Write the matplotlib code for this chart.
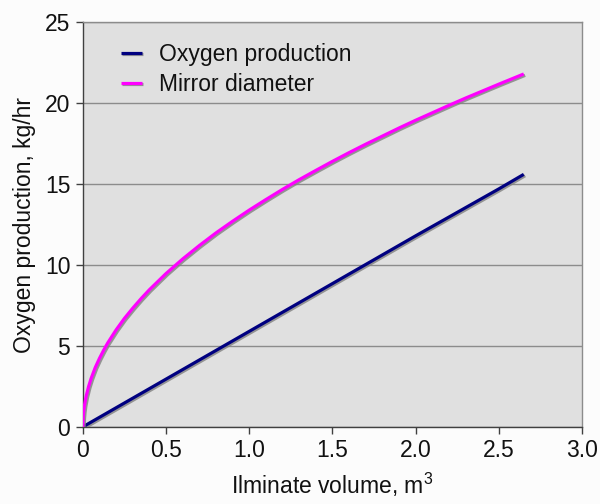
import matplotlib
matplotlib.use("Agg")
import matplotlib.pyplot as plt
import matplotlib.patheffects as pe

plt.rcParams['font.family'] = ['Liberation Sans', 'DejaVu Sans']

# Data
ilmenite_volume = [0, 0.002, 0.005, 0.01, 0.02, 0.035, 0.05, 0.075, 0.1, 0.125, 0.15,
                   0.2, 0.25, 0.3, 0.35, 0.4, 0.5, 0.6, 0.7, 0.8, 0.9, 1.0, 1.1,
                   1.2, 1.3, 1.4, 1.5, 1.6, 1.7, 1.8, 1.9, 2.0, 2.1, 2.2, 2.3,
                   2.4, 2.5, 2.65]
mirror_diameter = [0, 0.60, 0.95, 1.34, 1.89, 2.50, 2.99, 3.67, 4.23, 4.73, 5.19,
                   5.99, 6.70, 7.33, 7.92, 8.47, 9.47, 10.37, 11.20, 11.98, 12.70, 13.39, 14.04,
                   14.67, 15.27, 15.84, 16.40, 16.94, 17.46, 17.96, 18.46, 18.94, 19.40, 19.86, 20.31,
                   20.74, 21.17, 21.80]
oxygen_volume = [0, 0.5, 1.0, 1.5, 2.0, 2.5, 2.65]
oxygen_production = [0, 2.95, 5.9, 8.85, 11.8, 14.7, 15.6]

x_ticks = [0, 0.5, 1.0, 1.5, 2.0, 2.5, 3.0]
x_tick_labels = ["0", "0.5", "1.0", "1.5", "2.0", "2.5", "3.0"]
y_ticks = [0, 5, 10, 15, 20, 25]

fig = plt.figure(figsize=(6.0, 5.04), dpi=100)
fig.patch.set_facecolor('#fcfcfc')
ax = fig.add_axes([0.138, 0.153, 0.832, 0.803])
ax.set_facecolor('#e0e0e0')

shadow = [pe.SimpleLineShadow(offset=(1.0, -1.0), shadow_color='#808080', alpha=0.8), pe.Normal()]
ax.plot(oxygen_volume, oxygen_production, color='#000080', lw=2.3,
        label='Oxygen production', path_effects=shadow, solid_capstyle='butt',
        solid_joinstyle='round', zorder=3)
ax.plot(ilmenite_volume, mirror_diameter, color='#ff00ff', lw=2.3,
        label='Mirror diameter', path_effects=shadow, solid_capstyle='butt',
        solid_joinstyle='round', zorder=3)

ax.set_xlim(0, 3.0)
ax.set_ylim(0, 25)
ax.set_xticks(x_ticks)
ax.set_xticklabels(x_tick_labels)
ax.set_yticks(y_ticks)
ax.yaxis.grid(True, color='#8c8c8c', lw=1.0)
ax.set_axisbelow(True)

for s in ['top', 'right']:
    ax.spines[s].set_color('#8c8c8c')
    ax.spines[s].set_linewidth(1.0)
for s in ['left', 'bottom']:
    ax.spines[s].set_color('#404040')
    ax.spines[s].set_linewidth(1.0)

ax.tick_params(axis='both', direction='out', length=5, width=1, color='#404040',
               labelsize=16.5, pad=4, labelcolor='#111111')

ax.set_xlabel('Ilminate volume, m$^{\\mathregular{3}}$', fontsize=16.5, labelpad=6, color='#111111')
ax.set_ylabel('Oxygen production, kg/hr', fontsize=16.5, labelpad=6, color='#111111')

leg = ax.legend(loc='upper left', bbox_to_anchor=(0.035, 1.0), frameon=False,
                fontsize=16.5, handlelength=0.9, handletextpad=0.75, labelspacing=0.3)
for t in leg.get_texts():
    t.set_color('#111111')

fig.savefig('out.png', dpi=100, facecolor=fig.get_facecolor())
